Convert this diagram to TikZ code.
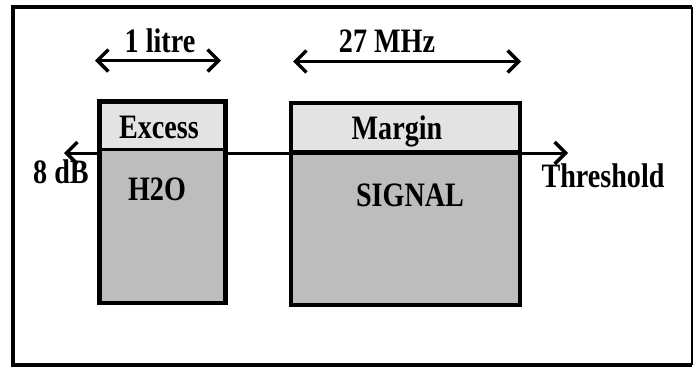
\documentclass[tikz,border=0pt]{standalone}
\usepackage{fontspec}
\setmainfont{Liberation Serif}
\usetikzlibrary{arrows.meta}
\definecolor{lightstip}{gray}{0.89}
\definecolor{darkstip}{gray}{0.74}
\newcommand{\tallt}[1]{\scalebox{0.97}[1.18]{#1}}
\tikzset{
  lbl/.style={font=\fontsize{29}{30}\selectfont\bfseries, inner sep=0pt, anchor=base},
  barb/.tip={Straight Barb[length=11pt,width=22pt,line width=3.4pt]},
  dimarrow/.style={line width=3pt, barb-barb},
  boxline/.style={draw=black, line width=4.5pt},
  divline/.style={draw=black, line width=3pt},
}
\begin{document}
\begin{tikzpicture}[x=1pt,y=-1pt]
\useasboundingbox (0,0) rectangle (694,370);
% outer frame
\draw[line width=4pt] (692,7) -- (13,7) -- (13,365) -- (692,365);
\draw[line width=1.5pt] (692,7) -- (692,365);

% threshold arrow
\coordinate (thl) at (64,153);
\coordinate (thr) at (568,153);
\draw[dimarrow] (thl) -- (thr);

% left box
\coordinate (lbtl) at (99.5,101.5);
\coordinate (lbdl) at (99.5,149);
\coordinate (lbdr) at (225.5,149);
\coordinate (lbbr) at (225.5,303);
\fill[lightstip] (lbtl) rectangle (lbdr);
\fill[darkstip] (lbdl) rectangle (lbbr);
\draw[divline] (lbdl) -- (lbdr);
\draw[boxline] (lbtl) rectangle (lbbr);

% right box
\coordinate (rbtl) at (291,103);
\coordinate (rbdl) at (291,152);
\coordinate (rbdr) at (520,152);
\coordinate (rbbr) at (520,305);
\fill[lightstip] (rbtl) rectangle (rbdr);
\fill[darkstip] (rbdl) rectangle (rbbr);
\draw[line width=5pt] (rbdl) -- (rbdr);
\draw[boxline] (rbtl) rectangle (rbbr);

% dimension arrows
\coordinate (la) at (95,60.5);
\coordinate (lb) at (221,60.5);
\draw[dimarrow] (la) -- (lb);
\coordinate (ra) at (293,61.5);
\coordinate (rb) at (521,61.5);
\draw[dimarrow] (ra) -- (rb);

% labels
\node[lbl] (litre) at (160,52) {\tallt{1 litre}};
\node[lbl] (mhz) at (387,52) {\tallt{27 MHz}};
\node[lbl] (excess) at (159,138) {\tallt{Excess}};
\node[lbl] (margin) at (397,139) {\tallt{Margin}};
\node[lbl] (h2o) at (157,200) {\tallt{H2O}};
\node[lbl] (signal) at (410,206) {\tallt{SIGNAL}};
\node[lbl] (db) at (61,183) {\tallt{8 dB}};
\node[lbl] (thresh) at (603,187) {\tallt{Threshold}};
\end{tikzpicture}
\end{document}
